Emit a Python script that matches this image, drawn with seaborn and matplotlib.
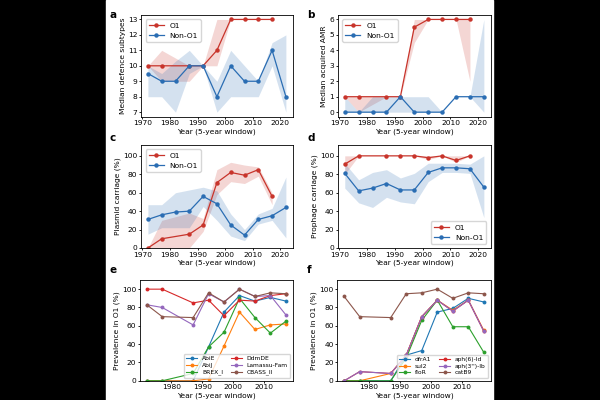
import numpy as np
import pandas as pd
import matplotlib.pyplot as plt
import seaborn as sns
from matplotlib.patches import Rectangle

# 5-year windows (midpoints)
years_all = [1972, 1977, 1982, 1987, 1992, 1997, 2002, 2007, 2012, 2017, 2022]
years_o1 = [1972, 1977, 1987, 1992, 1997, 2002, 2007, 2012, 2017]

# a: median defence subtypes
def_o1 = [10, 10, 10, 10, 11, 13, 13, 13, 13]
def_o1_lo = [10, 9, 9, 10, 10, 13, 13, 13, 13]
def_o1_hi = [10, 11, 10, 10, 13, 13, 13, 13, 13]
def_non = [9.5, 9, 9, 10, 10, 8, 10, 9, 9, 11, 8]
def_non_lo = [8, 8, 7, 9.5, 10, 7, 8, 8, 8, 10, 7]
def_non_hi = [10, 9.5, 10.3, 11, 10, 9, 11, 10, 9, 11.5, 12]

# b: median acquired AMR
amr_o1 = [1, 1, 1, 1, 5.5, 6, 6, 6, 6]
amr_o1_lo = [1, 0, 1, 1, 4.5, 6, 6, 6, 2]
amr_o1_hi = [1, 1, 1, 1, 6, 6, 6, 6, 6]
amr_non = [0, 0, 0, 0, 1, 0, 0, 0, 1, 1, 1]
amr_non_lo = [0, 0, 0, 0, 0, 0, 0, 0, 1, 1, 0]
amr_non_hi = [1, 0, 1, 1, 1, 1, 1, 0, 1, 1, 6]

# c: plasmid carriage
pla_o1 = [0, 10, 15, 25, 71, 82, 79, 85, 56]
pla_o1_lo = [0, 0, 0, 18, 58, 72, 70, 78, 47]
pla_o1_hi = [0, 30, 38, 32, 85, 93, 90, 88, 60]
pla_non = [31, 36, 39, 40, 56, 48, 25, 14, 31, 35, 44]
pla_non_lo = [15, 22, 22, 22, 45, 30, 13, 8, 26, 30, 11]
pla_non_hi = [47, 47, 60, 63, 66, 62, 37, 20, 37, 43, 77]

# d: prophage carriage
pro_o1 = [91, 100, 100, 100, 100, 98, 100, 95, 100]
pro_o1_lo = [80, 100, 100, 100, 100, 96, 100, 93, 100]
pro_o1_hi = [100, 100, 100, 100, 100, 100, 100, 100, 100]
pro_non = [81, 62, 65, 70, 63, 63, 82, 87, 87, 86, 66]
pro_non_lo = [65, 49, 44, 55, 50, 48, 72, 82, 82, 81, 33]
pro_non_hi = [92, 74, 82, 85, 76, 81, 92, 92, 92, 91, 100]

# e: defence systems in O1
def_names = ['AbiE', 'AbiJ', 'BREX_I', 'DdmDE', 'Lamassu-Fam', 'CBASS_II']
abie = [0, 0, 0, 37, 75, 93, 87, 91, 87]
abij = [0, 0, 0, 2, 38, 75, 56, 61, 62]
brex = [0, 0, 8, 37, 53, 90, 69, 52, 65]
ddmde = [100, 100, 85, 88, 71, 88, 87, 93, 95]
lamassu = [83, 80, 61, 95, 86, 100, 92, 93, 72]
cbass = [83, 70, 69, 96, 86, 100, 92, 96, 95]

# f: AMR genes in O1
amr_names = ['dfrA1', 'sul2', 'floR', 'aph(6)-Id', "aph(3'')-Ib", 'catB9']
dfra1 = [0, 0, 0, 28, 33, 75, 79, 90, 86]
sul2 = [0, 0, 8, 28, 70, 88, 77, 88, 55]
flor = [0, 0, 0, 25, 66, 88, 59, 59, 31]
aph6 = [0, 10, 8, 28, 70, 88, 76, 88, 54]
aph3 = [0, 10, 8, 28, 70, 88, 76, 88, 54]
catb9 = [92, 70, 69, 95, 96, 100, 90, 96, 95]

RED = '#c8342b'
BLUE = '#2a6db3'
plt.rcParams.update({
    'font.size': 5.4,
    'axes.linewidth': 0.6,
    'xtick.major.width': 0.6,
    'ytick.major.width': 0.6,
    'xtick.major.size': 1.6,
    'ytick.major.size': 1.6,
    'xtick.major.pad': 1.0,
    'ytick.major.pad': 1.0,
    'axes.labelpad': 1.5,
    'legend.fontsize': 5.4,
})

fig = plt.figure(figsize=(6, 4), dpi=100)
fig.patch.set_facecolor('black')
fig.add_artist(Rectangle((106 / 600, 0), 387 / 600, 1, transform=fig.transFigure,
                         color='white', zorder=-5))

# axes positions [left, bottom, width, height]
pos = {
    'a': [0.235, 0.708, 0.253, 0.255],
    'b': [0.563, 0.708, 0.255, 0.255],
    'c': [0.235, 0.380, 0.253, 0.258],
    'd': [0.563, 0.380, 0.255, 0.258],
    'e': [0.233, 0.048, 0.255, 0.252],
    'f': [0.562, 0.048, 0.256, 0.252],
}
axes = {k: fig.add_axes(v) for k, v in pos.items()}


def two_group(ax, o1, o1_lo, o1_hi, non, non_lo, non_hi, ylabel, loc):
    df = pd.concat([
        pd.DataFrame({'year': years_o1, 'val': o1, 'group': 'O1'}),
        pd.DataFrame({'year': years_all, 'val': non, 'group': 'Non-O1'}),
    ])
    ax.fill_between(years_o1, o1_lo, o1_hi, color=RED, alpha=0.2, lw=0)
    ax.fill_between(years_all, non_lo, non_hi, color=BLUE, alpha=0.2, lw=0)
    sns.lineplot(data=df, x='year', y='val', hue='group',
                 palette={'O1': RED, 'Non-O1': BLUE}, marker='o',
                 markersize=3.2, markeredgewidth=0, lw=0.9, ax=ax)
    ax.set_xticks(range(1970, 2030, 10))
    ax.set_xlabel('Year (5-year window)')
    ax.set_ylabel(ylabel)
    ax.legend(loc=loc, handlelength=2.0, borderaxespad=0.6)


two_group(axes['a'], def_o1, def_o1_lo, def_o1_hi, def_non, def_non_lo, def_non_hi,
          'Median defence subtypes', 'upper left')
two_group(axes['b'], amr_o1, amr_o1_lo, amr_o1_hi, amr_non, amr_non_lo, amr_non_hi,
          'Median acquired AMR', 'upper left')
two_group(axes['c'], pla_o1, pla_o1_lo, pla_o1_hi, pla_non, pla_non_lo, pla_non_hi,
          'Plasmid carriage (%)', 'upper left')
two_group(axes['d'], pro_o1, pro_o1_lo, pro_o1_hi, pro_non, pro_non_lo, pro_non_hi,
          'Prophage carriage (%)', 'lower right')
axes['a'].set_yticks(range(7, 14))
axes['b'].set_yticks(range(0, 7))
for k in ['c', 'd']:
    axes[k].set_ylim(0, 112)
    axes[k].set_yticks(range(0, 101, 20))


def prevalence(ax, names, series):
    df = pd.concat([pd.DataFrame({'year': years_o1, 'val': s, 'gene': n})
                    for n, s in zip(names, series)])
    sns.lineplot(data=df, x='year', y='val', hue='gene', palette='tab10',
                 marker='o', markersize=2.8, markeredgewidth=0, lw=0.8, ax=ax)
    ax.set_ylim(0, 110)
    ax.set_yticks(range(0, 101, 20))
    ax.set_xticks([1980, 1990, 2000, 2010])
    ax.set_xlabel('Year (5-year window)')
    ax.set_ylabel('Prevalence in O1 (%)')
    ax.legend(loc='lower right', ncol=2, fontsize=4.3, handlelength=1.8,
              columnspacing=1.3, labelspacing=0.25, borderpad=0.4)


prevalence(axes['e'], def_names, [abie, abij, brex, ddmde, lamassu, cbass])
prevalence(axes['f'], amr_names, [dfra1, sul2, flor, aph6, aph3, catb9])

# panel letters
for k, (x, y) in {'a': (110, 15), 'b': (307, 15), 'c': (110, 138),
                  'd': (307, 138), 'e': (110, 270), 'f': (307, 270)}.items():
    fig.text(x / 600, 1 - y / 400, k, fontsize=7.5, fontweight='bold', va='center')

fig.savefig('out.png', dpi=100, facecolor='black')
